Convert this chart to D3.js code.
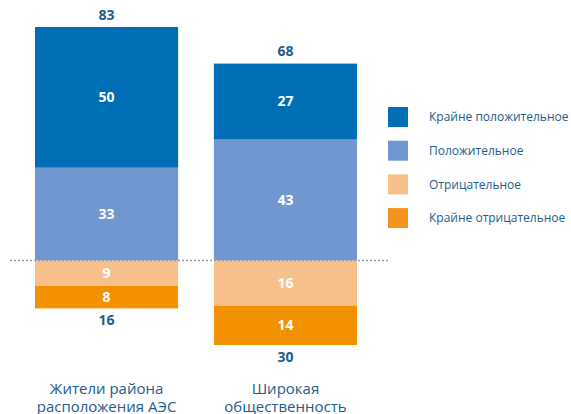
<!DOCTYPE html>
<html>
<head>
<meta charset="utf-8">
<script src="https://cdn.jsdelivr.net/npm/d3@7"></script>
<style>
  body { margin: 0; background: #fff; }
  svg { font-family: "Open Sans", "Noto Sans", sans-serif; }
</style>
</head>
<body>
<div id="chart"></div>
<script>
// Groups and their values (positive share on top, negative below the line)
const groups = ['Жители района расположения АЭС', 'Широкая общественность'];
const groupLines = [['Жители района', 'расположения АЭС'], ['Широкая', 'общественность']];
const veryPositive = [50, 27];
const positive = [33, 43];
const negative = [9, 16];
const veryNegative = [8, 14];
// totals as printed in the source (rounded separately)
const totalPositive = [83, 68];
const totalNegative = [16, 30];
const seriesNames = ['Крайне положительное', 'Положительное', 'Отрицательное', 'Крайне отрицательное'];
const seriesColors = ['#006eb6', '#7097cf', '#f8c18c', '#f39200'];
const legendColors = ['#006eb6', '#7097cf', '#f8c18c', '#f6921e'];

const width = 571, height = 414;
const textColor = '#1d5c8c';

const svg = d3.select('#chart').append('svg')
  .attr('width', width)
  .attr('height', height);

// x positions of the two bars
const x = d3.scaleBand()
  .domain(groups)
  .range([35, 357])
  .paddingInner(0.2)
  .paddingOuter(0);

// y: 0 at the dotted baseline
const y = d3.scaleLinear()
  .domain([-30, 83])
  .range([345, 27]);

// build stacked segments
const segs = [];
groups.forEach((g, i) => {
  // Положительное sits next to the baseline, then Крайне положительное
  segs.push({ g, s: 1, v: positive[i], y0: 0, y1: positive[i] });
  segs.push({ g, s: 0, v: veryPositive[i], y0: positive[i], y1: positive[i] + veryPositive[i] });
  segs.push({ g, s: 2, v: negative[i], y0: -negative[i], y1: 0 });
  segs.push({ g, s: 3, v: veryNegative[i], y0: -negative[i] - veryNegative[i], y1: -negative[i] });
});

svg.append('g').selectAll('rect')
  .data(segs)
  .join('rect')
  .attr('x', d => x(d.g))
  .attr('width', x.bandwidth())
  .attr('y', d => y(d.y1))
  .attr('height', d => y(d.y0) - y(d.y1))
  .attr('fill', d => seriesColors[d.s]);

// segment values
svg.append('g').selectAll('text')
  .data(segs)
  .join('text')
  .attr('x', d => x(d.g) + x.bandwidth() / 2)
  .attr('y', d => (y(d.y0) + y(d.y1)) / 2)
  .attr('dy', '0.35em')
  .attr('text-anchor', 'middle')
  .attr('fill', '#fff')
  .attr('font-size', 14)
  .attr('font-weight', 'bold')
  .text(d => d.v);

// dotted baseline
svg.append('line')
  .attr('x1', 10).attr('x2', 390)
  .attr('y1', y(0)).attr('y2', y(0))
  .attr('stroke', '#9a9a9a')
  .attr('stroke-width', 1.5)
  .attr('stroke-dasharray', '2,2');

// totals above and below
groups.forEach((g, i) => {
  const cx = x(g) + x.bandwidth() / 2;
  const yTop = y(veryPositive[i] + positive[i]);
  const yBottom = y(-negative[i] - veryNegative[i]);
  svg.append('text')
    .attr('x', cx).attr('y', yTop - 12)
    .attr('dy', '0.35em')
    .attr('text-anchor', 'middle')
    .attr('fill', textColor)
    .attr('font-size', 14)
    .attr('font-weight', 'bold')
    .text(totalPositive[i]);
  svg.append('text')
    .attr('x', cx).attr('y', yBottom + 12)
    .attr('dy', '0.35em')
    .attr('text-anchor', 'middle')
    .attr('fill', textColor)
    .attr('font-size', 14)
    .attr('font-weight', 'bold')
    .text(totalNegative[i]);

  // category label
  const lbl = svg.append('text')
    .attr('text-anchor', 'middle')
    .attr('fill', textColor)
    .attr('font-size', 15);
  groupLines[i].forEach((t, j) => {
    lbl.append('tspan')
      .attr('x', cx)
      .attr('y', 388.5 + j * 18)
      .attr('dy', '0.35em')
      .text(t);
  });
});

// legend
const legend = svg.append('g').selectAll('g')
  .data(seriesNames)
  .join('g')
  .attr('transform', (d, i) => `translate(388,${107 + i * 33.7})`);

legend.append('rect')
  .attr('width', 20).attr('height', 20)
  .attr('fill', (d, i) => legendColors[i]);

legend.append('text')
  .attr('x', 41).attr('y', 10)
  .attr('dy', '0.35em')
  .attr('fill', textColor)
  .attr('font-size', 12)
  .text(d => d);
</script>
</body>
</html>
